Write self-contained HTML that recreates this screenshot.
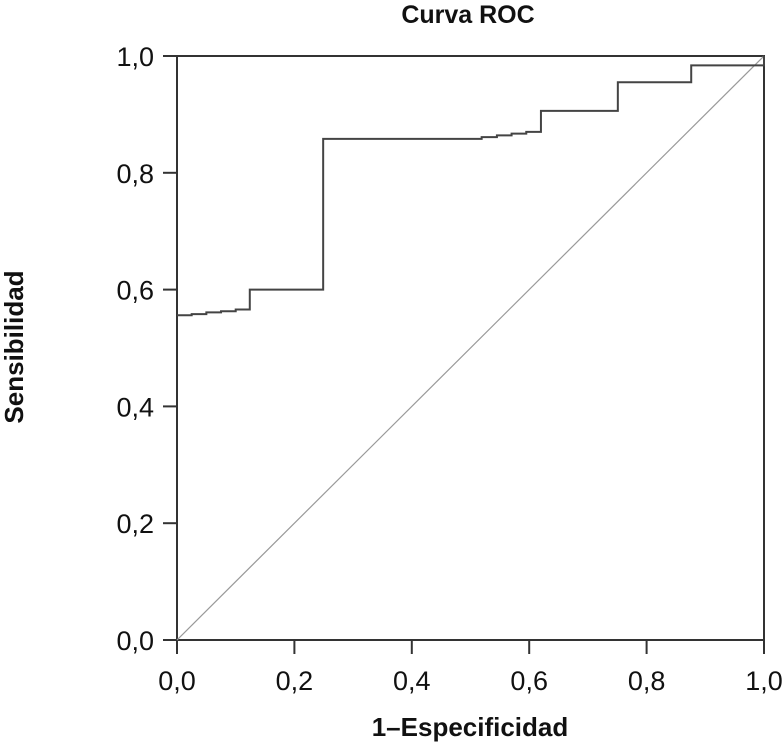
<!DOCTYPE html>
<html><head><meta charset="utf-8"><style>
body{margin:0;background:#fff;}
svg text{font-family:"Liberation Sans",Arial,sans-serif;fill:#111;}
</style></head><body>
<svg id="chart" width="784" height="743" viewBox="0 0 784 743">
<text x="468" y="23" font-size="25" font-weight="bold" text-anchor="middle">Curva ROC</text>
<text x="470" y="736" font-size="26" font-weight="bold" text-anchor="middle">1–Especificidad</text>
<text transform="translate(23,347) rotate(-90)" font-size="26" font-weight="bold" text-anchor="middle">Sensibilidad</text>
<g id="axes"></g>
<g id="marks"></g>
</svg>
<script>
const tickValues=[0,0.2,0.4,0.6,0.8,1.0];
const tickLabels=["0,0","0,2","0,4","0,6","0,8","1,0"];
const fprValues=[0,0.025,0.05,0.075,0.1,0.124,0.124,0.249,0.519,0.545,0.57,0.595,0.62,0.751,0.876,1.0];
const tprValues=[0.556,0.558,0.561,0.563,0.566,0.569,0.600,0.858,0.861,0.864,0.867,0.870,0.906,0.955,0.984,1.0];
const L=177,R=764,T=56,B=640;
const sx=v=>L+v*(R-L), sy=v=>B-v*(B-T);
const NS="http://www.w3.org/2000/svg";
const axes=document.getElementById('axes'), marks=document.getElementById('marks');
function mk(tag,attrs,parent){const e=document.createElementNS(NS,tag);for(const k in attrs)e.setAttribute(k,attrs[k]);parent.appendChild(e);return e;}
const frame=mk('rect',{x:L,y:T,width:R-L,height:B-T,fill:'none',stroke:'#333','stroke-width':2},axes);


tickValues.forEach((v,i)=>{
  const yt=mk('line',{x1:L-14,x2:L,y1:sy(v),y2:sy(v),stroke:'#333','stroke-width':2},axes);
  
  
  const yl=mk('text',{x:L-23,y:sy(v)+10,'font-size':27,'text-anchor':'end'},axes);
  yl.textContent=tickLabels[i];
  
  
  const xt=mk('line',{x1:sx(v),x2:sx(v),y1:B,y2:B+14,stroke:'#333','stroke-width':2},axes);
  
  
  const xl=mk('text',{x:sx(v),y:B+50,'font-size':27,'text-anchor':'middle'},axes);
  xl.textContent=tickLabels[i];
  
  
});
const diag=mk('line',{x1:sx(0),y1:sy(0),x2:sx(1),y2:sy(1),stroke:'#999','stroke-width':1.2},marks);


let d='M'+sx(fprValues[0])+','+sy(tprValues[0]);
for(let i=1;i<fprValues.length;i++){d+=' H'+sx(fprValues[i])+' V'+sy(tprValues[i]);}
const roc=mk('path',{d:d,fill:'none',stroke:'#444','stroke-width':2},marks);


</script>
</body></html>
